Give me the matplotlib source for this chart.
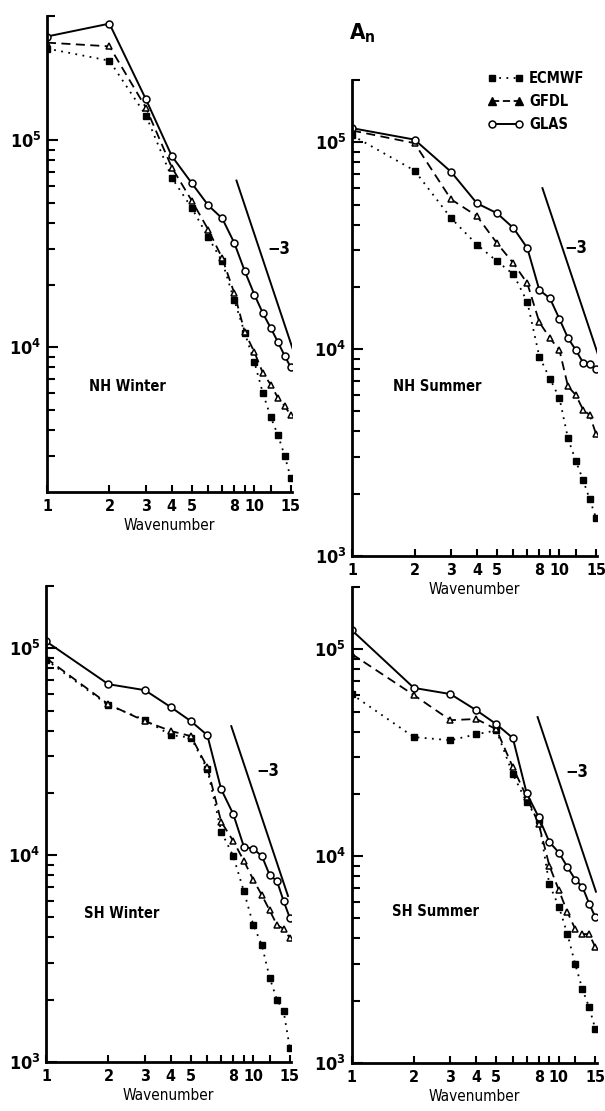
import numpy as np
import matplotlib.pyplot as plt
from matplotlib.lines import Line2D

plt.rcParams['font.family'] = ['DejaVu Sans']
plt.rcParams['font.stretch'] = 'condensed'
plt.rcParams['font.weight'] = 'bold'
plt.rcParams['mathtext.default'] = 'regular'

#######################################################################################

wavenumber = [1, 2, 3, 4, 5, 6, 7, 8, 9, 10, 11, 12, 13, 14, 15]

nh_winter_ecmwf = [2.78e5, 2.43e5, 1.32e5, 6.6e4, 4.7e4, 3.4e4, 2.6e4, 1.69e4, 1.17e4, 8.5e3, 6.0e3, 4.6e3, 3.76e3, 3.0e3, 2.33e3]
nh_winter_gfdl = [2.97e5, 2.85e5, 1.44e5, 7.4e4, 5.1e4, 3.7e4, 2.7e4, 1.83e4, 1.18e4, 9.5e3, 7.5e3, 6.6e3, 5.7e3, 5.2e3, 4.7e3]
nh_winter_glas = [3.18e5, 3.67e5, 1.58e5, 8.4e4, 6.2e4, 4.85e4, 4.2e4, 3.2e4, 2.33e4, 1.8e4, 1.46e4, 1.24e4, 1.06e4, 9.1e3, 8.0e3]

nh_summer_ecmwf = [1.08e5, 7.3e4, 4.3e4, 3.2e4, 2.66e4, 2.3e4, 1.69e4, 9.2e3, 7.2e3, 5.8e3, 3.7e3, 2.88e3, 2.33e3, 1.88e3, 1.53e3]
nh_summer_gfdl = [1.14e5, 9.9e4, 5.3e4, 4.4e4, 3.25e4, 2.6e4, 2.08e4, 1.35e4, 1.13e4, 9.9e3, 6.6e3, 6.0e3, 5.1e3, 4.8e3, 3.9e3]
nh_summer_glas = [1.17e5, 1.03e5, 7.2e4, 5.07e4, 4.54e4, 3.85e4, 3.08e4, 1.93e4, 1.76e4, 1.4e4, 1.13e4, 9.9e3, 8.6e3, 8.5e3, 8.0e3]

sh_winter_ecmwf = [8.8e4, 5.3e4, 4.5e4, 3.8e4, 3.7e4, 2.6e4, 1.3e4, 9.9e3, 6.7e3, 4.6e3, 3.67e3, 2.55e3, 2.0e3, 1.76e3, 1.17e3]
sh_winter_gfdl = [8.96e4, 5.36e4, 4.44e4, 3.98e4, 3.76e4, 2.66e4, 1.45e4, 1.17e4, 9.4e3, 7.6e3, 6.4e3, 5.4e3, 4.6e3, 4.4e3, 3.98e3]
sh_winter_glas = [1.08e5, 6.7e4, 6.27e4, 5.19e4, 4.44e4, 3.8e4, 2.08e4, 1.58e4, 1.1e4, 1.07e4, 9.9e3, 8.0e3, 7.5e3, 6.0e3, 4.97e3]

sh_summer_ecmwf = [6.07e4, 3.76e4, 3.63e4, 3.88e4, 4.05e4, 2.49e4, 1.82e4, 1.49e4, 7.3e3, 5.7e3, 4.2e3, 3.0e3, 2.27e3, 1.86e3, 1.46e3]
sh_summer_gfdl = [9.5e4, 6.0e4, 4.54e4, 4.6e4, 4.1e4, 2.69e4, 1.93e4, 1.43e4, 9.0e3, 6.85e3, 5.36e3, 4.44e3, 4.2e3, 4.2e3, 3.63e3]
sh_summer_glas = [1.24e5, 6.5e4, 6.07e4, 5.07e4, 4.34e4, 3.72e4, 2.01e4, 1.54e4, 1.17e4, 1.04e4, 8.85e3, 7.7e3, 7.1e3, 5.9e3, 5.07e3]

panel_names = ['NH Winter', 'NH Summer', 'SH Winter', 'SH Summer']
panel_ylims = [(2e3, 4e5), (1e3, 2e5), (1e3, 2e5), (1e3, 2e5)]
# start of the -3 reference line (x, y) and its end wavenumber
slope_start = [(8.2, 6.4e4), (8.28, 6.0e4), (7.83, 4.2e4), (7.9, 4.7e4)]
slope_end_x = [15.4, 15.3, 14.7, 15.1]
slope_label = [(13.1, 3.0e4), (11.95, 3.08e4), (11.7, 2.55e4), (12.2, 2.55e4)]
name_pos = [(2.44, 6.5e3), (2.58, 6.6e3), (2.33, 5.25e3), (2.55, 5.4e3)]

xtick_major = [1, 2, 3, 4, 5, 8, 10, 15]
xtick_minor = [6, 7, 9, 12]

series = [
    (nh_winter_ecmwf, nh_winter_gfdl, nh_winter_glas),
    (nh_summer_ecmwf, nh_summer_gfdl, nh_summer_glas),
    (sh_winter_ecmwf, sh_winter_gfdl, sh_winter_glas),
    (sh_summer_ecmwf, sh_summer_gfdl, sh_summer_glas),
]

#######################################################################################

fig = plt.figure(figsize=(6.05, 11.11), dpi=100)

positions = [
    [0.0777, 0.5572, 0.405, 0.4285],
    [0.5820, 0.4995, 0.405, 0.4285],
    [0.0760, 0.0441, 0.405, 0.4285],
    [0.5810, 0.0432, 0.405, 0.4285],
]


def draw_panel(ax, idx):
    ecmwf, gfdl, glas = series[idx]
    ax.plot(wavenumber, ecmwf, linestyle=(0, (1, 3)), color='black', lw=1.3,
            marker='s', ms=4.5, mfc='black', mec='black')
    ax.plot(wavenumber, gfdl, linestyle=(0, (5, 3)), color='black', lw=1.3,
            marker='^', ms=5, mfc='white', mec='black', mew=1.1)
    ax.plot(wavenumber, glas, linestyle='-', color='black', lw=1.4,
            marker='o', ms=5, mfc='white', mec='black', mew=1.1)

    x0, y0 = slope_start[idx]
    x1 = slope_end_x[idx]
    ax.plot([x0, x1], [y0, y0 * (x1 / x0) ** -3], color='black', lw=1.4)
    ax.text(*slope_label[idx], '\u22123', fontsize=12, ha='center', va='center')
    ax.text(*name_pos[idx], panel_names[idx], fontsize=10.5, ha='center', va='center')

    ax.set_xscale('log')
    ax.set_yscale('log')
    ax.set_xlim(1, 15.2)
    lo, hi = panel_ylims[idx]
    ax.set_ylim(lo, hi)

    ax.set_xticks(xtick_major)
    ax.set_xticklabels([str(t) for t in xtick_major])
    ax.set_xticks(xtick_minor, minor=True)
    ax.set_xticklabels([], minor=True)

    majors = [v for v in [1e3, 1e4, 1e5] if lo <= v <= hi]
    ax.set_yticks(majors)
    ax.set_yticklabels(['$10^{%d}$' % int(np.log10(v)) for v in majors])
    minors = [m * d for d in [1e3, 1e4] for m in range(2, 10) if lo < m * d < hi] + [hi]
    ax.set_yticks(minors, minor=True)
    ax.set_yticklabels([], minor=True)

    ax.tick_params(axis='both', which='both', direction='in', width=1.5)
    ax.tick_params(axis='y', which='major', length=8, labelsize=13, pad=4)
    ax.tick_params(axis='y', which='minor', length=6)
    ax.tick_params(axis='x', which='major', length=5, labelsize=11.5, pad=5)
    ax.tick_params(axis='x', which='minor', length=5)

    for side in ['top', 'right']:
        ax.spines[side].set_visible(False)
    for side in ['left', 'bottom']:
        ax.spines[side].set_linewidth(2)
    ax.set_xlabel('Wavenumber', fontsize=11, labelpad=3)
    ax.patch.set_alpha(0)


for i, pos in enumerate(positions):
    ax = fig.add_axes(pos)
    draw_panel(ax, i)

fig.text(0.598, 0.970, 'A$_n$', fontsize=16, ha='center', va='center')

handles = [
    Line2D([], [], linestyle=(0, (1, 3)), color='black', lw=1.3, marker='s', ms=5, mfc='black'),
    Line2D([], [], linestyle=(0, (4, 2)), color='black', lw=1.3, marker='^', ms=6, mfc='black'),
    Line2D([], [], linestyle='-', color='black', lw=1.4, marker='o', ms=5, mfc='white', mew=1.1),
]
fig.legend(handles, ['ECMWF', 'GFDL', 'GLAS'], loc='upper left',
           bbox_to_anchor=(0.785, 0.948), frameon=False, numpoints=2,
           handlelength=2.4, handletextpad=0.4, labelspacing=0.55, fontsize=10.5)

fig.savefig('out.png', dpi=100)
